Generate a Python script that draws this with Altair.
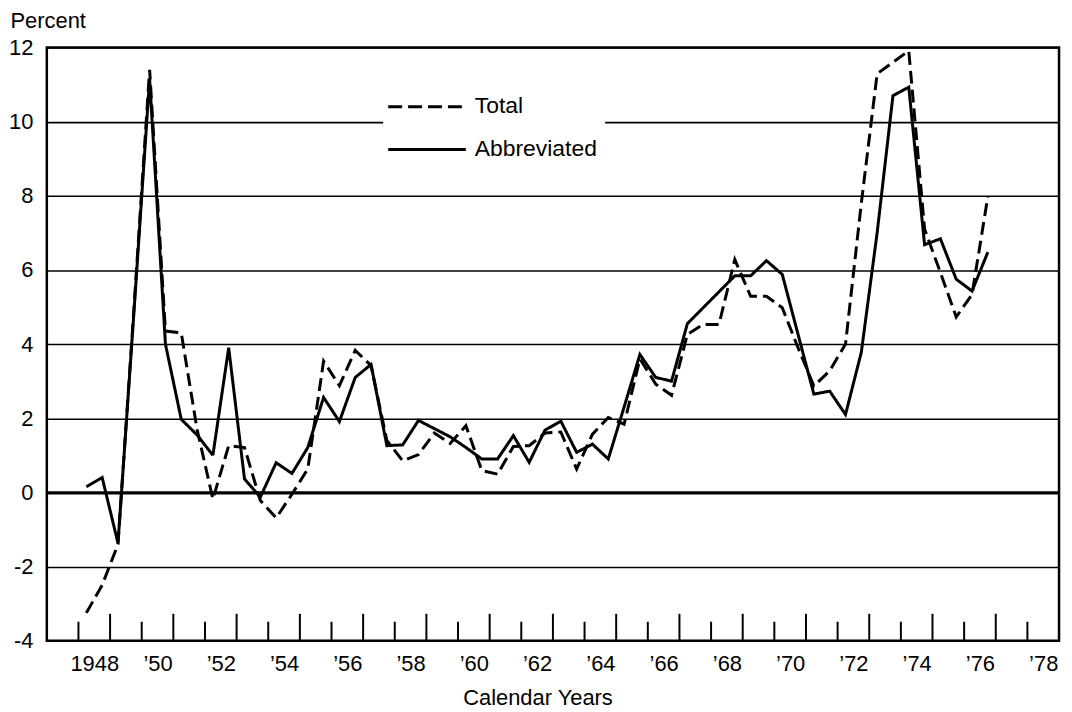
import json
import altair as alt
import pandas as pd

# ---- data (semiannual, plotted at mid-half-year) ----
periods = [1948.25 + 0.5 * i for i in range(58)]
total = [
    -3.25, -2.5, -1.4, 4.9, 11.4, 4.35, 4.3, 1.7, -0.18, 1.26,
    1.21, -0.22, -0.69, -0.05, 0.63, 3.54, 2.88, 3.83, 3.42, 1.4,
    0.85, 1.02, 1.6, 1.32, 1.8, 0.59, 0.49, 1.24, 1.26, 1.6,
    1.63, 0.63, 1.57, 2.02, 1.84, 3.6, 2.92, 2.62, 4.26, 4.53,
    4.53, 6.28, 5.29, 5.29, 4.98, 3.9, 2.87, 3.28, 4.0, 7.8,
    11.29, 11.6, 11.91, 7.1, 5.93, 4.73, 5.34, 7.98,
]
abbreviated = [
    0.15, 0.40, -1.37, 4.8, 11.15, 4.0, 1.97, 1.55, 1.0, 3.9,
    0.36, -0.13, 0.8, 0.51, 1.21, 2.56, 1.91, 3.1, 3.45, 1.26,
    1.28, 1.94, 1.72, 1.5, 1.21, 0.9, 0.9, 1.53, 0.81, 1.68,
    1.92, 1.08, 1.3, 0.9, 2.3, 3.72, 3.1, 3.0, 4.55, 4.98,
    5.41, 5.84, 5.84, 6.25, 5.88, 4.26, 2.65, 2.73, 2.1, 3.78,
    7.0, 10.7, 10.93, 6.68, 6.84, 5.75, 5.43, 6.48,
]
series_names = ["Total", "Abbreviated"]

y_ticks = [-4, -2, 0, 2, 4, 6, 8, 10, 12]
label_years = list(range(1948, 1979, 2))
x_tick_labels = ["1948", "’50", "’52", "’54", "’56", "’58", "’60", "’62",
                 "’64", "’66", "’68", "’70", "’72", "’74", "’76", "’78"]
even_year_ticks = list(range(1948, 1979, 2))
odd_year_ticks = list(range(1949, 1978, 2))

FONT = "Liberation Sans"
W, H = 1017, 596

df = pd.DataFrame({
    "period": periods * 2,
    "value": total + abbreviated,
    "series": [series_names[0]] * len(periods) + [series_names[1]] * len(periods),
})

label_pos = [y + 0.5 for y in label_years]
label_expr = f"{json.dumps(x_tick_labels, ensure_ascii=False)}[indexof({json.dumps(label_pos)}, datum.value)]"

x_scale = alt.Scale(domain=[1947, 1979], nice=False, zero=False)
y_scale = alt.Scale(domain=[-4, 12], nice=False, zero=False)

x_axis = alt.Axis(
    values=label_pos, labelExpr=label_expr, ticks=False, tickSize=0, domain=False,
    grid=False, labelFont=FONT, labelFontSize=22, labelColor="black",
    labelBaseline="alphabetic", labelPadding=30, labelAlign="center",
    title="Calendar Years", titleFont=FONT, titleFontSize=22, titleFontWeight="normal",
    titleColor="black", titleX=493, titleY=64, titleBaseline="alphabetic",
    titleAlign="center",
)
y_axis = alt.Axis(
    values=y_ticks, labelExpr="datum.value + ''", ticks=False, tickSize=0, domain=False,
    grid=True, gridColor="black",
    gridWidth={"condition": {"test": "datum.value === 0", "value": 3.5}, "value": 1.6},
    gridOpacity=1,
    labelFont=FONT, labelFontSize=22, labelColor="black", labelPadding=14,
    title="Percent", titleFont=FONT, titleFontSize=22, titleFontWeight="normal",
    titleColor="black", titleAngle=0, titleAlign="left", titleBaseline="alphabetic",
    titleX=-37, titleY=-20,
)

lines = alt.Chart(df).mark_line(strokeWidth=3, color="black", strokeJoin="miter").encode(
    x=alt.X("period:Q", scale=x_scale, axis=x_axis),
    y=alt.Y("value:Q", scale=y_scale, axis=y_axis),
    strokeDash=alt.StrokeDash(
        "series:N",
        scale=alt.Scale(domain=series_names, range=[[13, 6], [1, 0]]),
        legend=None,
    ),
    detail="series:N",
)

short_ticks = alt.Chart(pd.DataFrame({"yr": even_year_ticks})).mark_rule(
    color="black", strokeWidth=2
).encode(x=alt.X("yr:Q", scale=x_scale), y=alt.value(H), y2=alt.value(H - 19))

tall_ticks = alt.Chart(pd.DataFrame({"yr": odd_year_ticks})).mark_rule(
    color="black", strokeWidth=2
).encode(x=alt.X("yr:Q", scale=x_scale), y=alt.value(H), y2=alt.value(H - 27))

# legend (drawn with marks)
one = pd.DataFrame({"label": [series_names[0]]})
two = pd.DataFrame({"label": [series_names[1]]})
legend_box = alt.Chart(one).mark_rect(fill="white", stroke=None).encode(
    x=alt.value(338), x2=alt.value(561), y=alt.value(40), y2=alt.value(121)
)
leg_dash = alt.Chart(one).mark_rule(color="black", strokeWidth=3, strokeDash=[14, 6]).encode(
    x=alt.value(343), x2=alt.value(421), y=alt.value(59.5)
)
leg_solid = alt.Chart(two).mark_rule(color="black", strokeWidth=3).encode(
    x=alt.value(343), x2=alt.value(421), y=alt.value(102.5)
)
leg_t1 = alt.Chart(one).mark_text(
    font=FONT, fontSize=23, align="left", baseline="middle", color="black"
).encode(x=alt.value(430), y=alt.value(59), text="label:N")
leg_t2 = alt.Chart(two).mark_text(
    font=FONT, fontSize=23, align="left", baseline="middle", color="black"
).encode(x=alt.value(430), y=alt.value(102.5), text="label:N")

chart = alt.layer(
    lines, short_ticks, tall_ticks, legend_box, leg_dash, leg_solid, leg_t1, leg_t2
).properties(
    width=W, height=H,
    padding={"left": 39, "top": 38, "right": 5, "bottom": 70},
    autosize=alt.AutoSizeParams(type="none"),
    background="white",
).configure_view(
    stroke="black", strokeWidth=2.5, fill="white"
)

chart.save("out.html", embed_options={"renderer": "svg", "actions": False})
